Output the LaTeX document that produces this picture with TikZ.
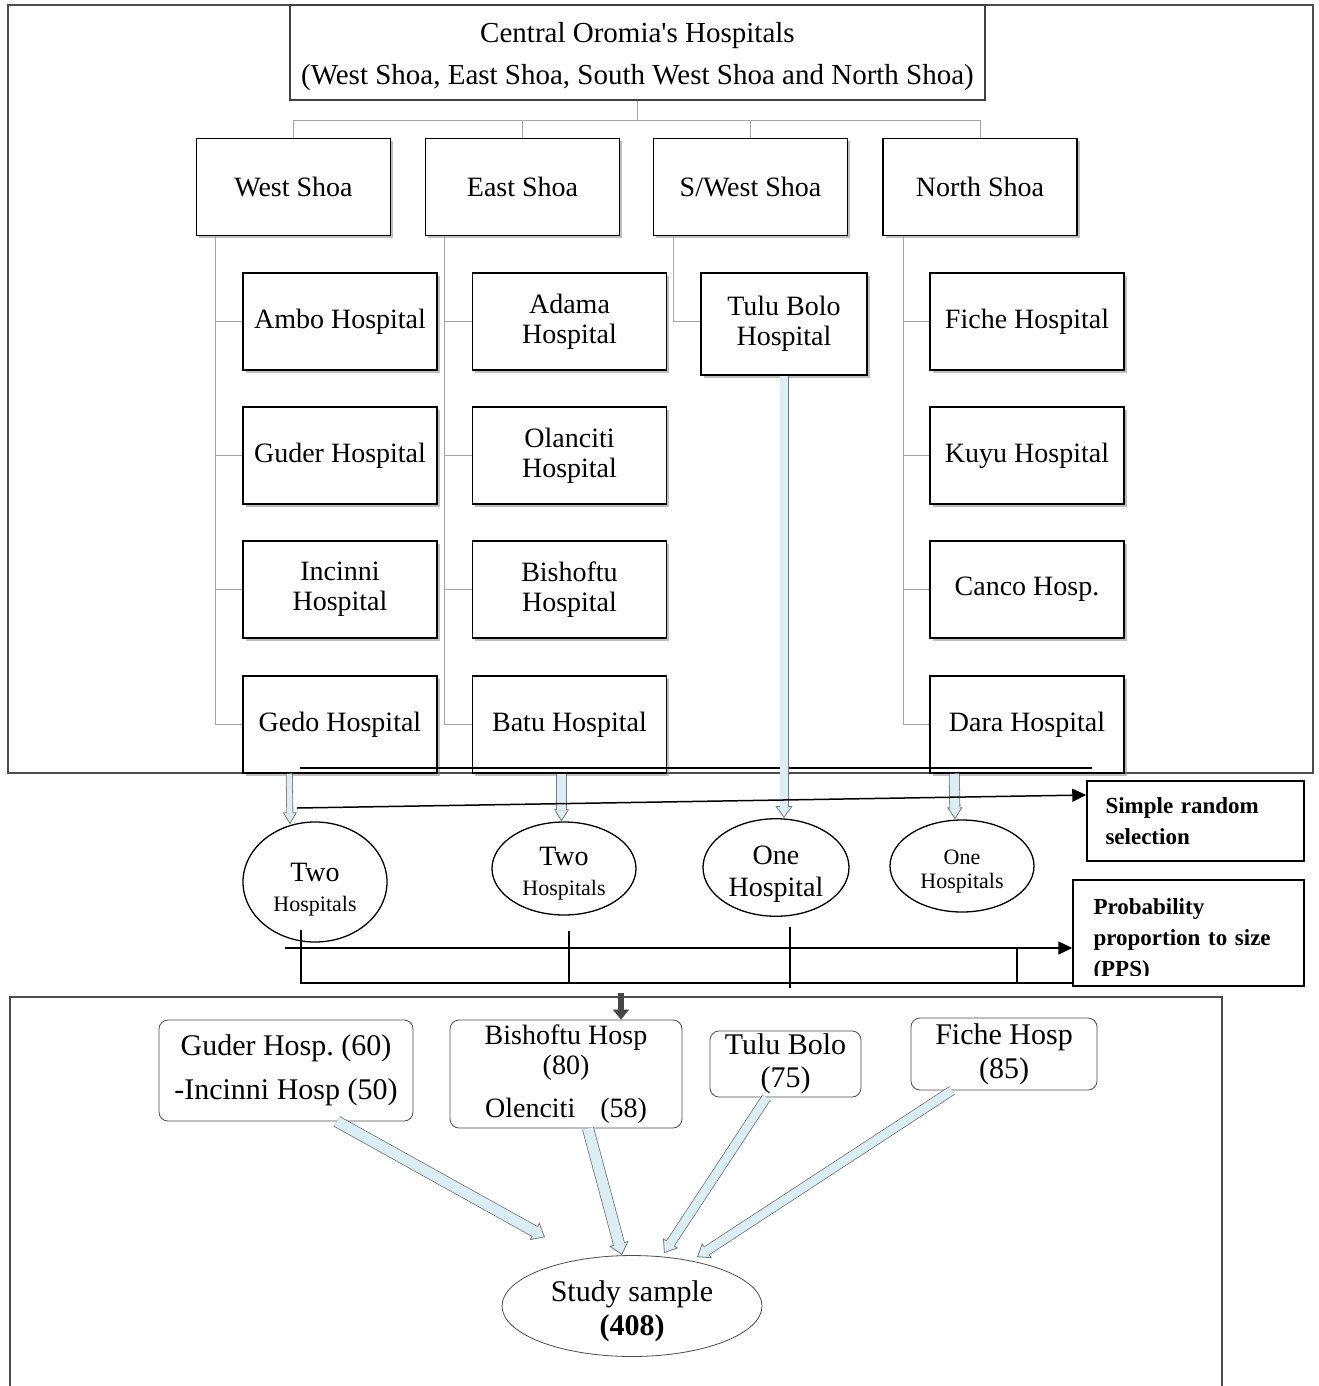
\documentclass[tikz,border=0pt]{standalone}
\usepackage{fontspec}
\setmainfont{Liberation Serif}
\usetikzlibrary{shapes.geometric}
\usetikzlibrary{shadows}
\usetikzlibrary{arrows.meta}
\usetikzlibrary{calc}

\definecolor{arrowblue}{RGB}{218,238,243}
\definecolor{treegray}{RGB}{165,165,165}
\definecolor{edgegray}{RGB}{120,120,120}
\definecolor{headgray}{RGB}{70,70,70}

\tikzset{
  panel/.style={draw=black!70,line width=1.2pt},
  titlebox/.style={rectangle,draw=black!75,line width=1.3pt,fill=white,align=center,
    minimum width=695pt,minimum height=95pt,inner sep=0pt,font=\fontsize{29}{42}\selectfont},
  hospbox/.style={rectangle,draw,line width=1.5pt,fill=white,align=center,
    minimum width=194pt,minimum height=97pt,inner sep=2pt,font=\fontsize{28}{30}\selectfont,
    drop shadow={shadow xshift=2.5pt,shadow yshift=-2.5pt,fill=black!50,opacity=0.5}},
  countoval/.style={ellipse,draw,line width=1.3pt,fill=white,align=center,inner sep=0pt,
    minimum width=144pt,minimum height=94pt,font=\fontsize{28}{28}\selectfont},
  methodbox/.style={rectangle,draw,line width=1.5pt,fill=white,align=left,
    font=\fontsize{23}{31}\bfseries\selectfont},
  samplebox/.style={rectangle,rounded corners=9pt,draw=black!70,line width=0.8pt,fill=white,
    align=center,inner sep=0pt,font=\fontsize{30}{34}\selectfont},
  treeline/.style={draw=treegray,line width=1pt},
  pointer/.style={line width=1.5pt,-{Triangle[length=14pt,width=13pt]}},
  downarrow/.style={draw=headgray,line width=6pt,-{Triangle[length=10pt,width=16pt,line width=0.5pt]}},
  blockarrow/.style 2 args={draw=edgegray,line width=#1,
    -{Triangle[length=12pt,width=#2,line width=0.8pt,fill=arrowblue]},
    postaction={draw=arrowblue,line width=#1-1.6pt,shorten >=11pt,-}},
}

\begin{document}
\begin{tikzpicture}[x=1pt,y=-1pt]
\path[use as bounding box,fill=white] (0,0) rectangle (1318,1386);

% frames
\draw[panel] (8,5) rectangle (1313,773);
\draw[panel] (10,1386) |- (1222,997) -- (1222,1386);

\path (637.5,52.5) node[titlebox](Central) {\rule{0pt}{28pt}Central Oromia\textquotesingle s Hospitals\\(West Shoa, East Shoa, South West Shoa and North Shoa)}
(293.5,187) node[hospbox](West) {West Shoa}
(522.5,187) node[hospbox](East) {East Shoa}
(750.5,187) node[hospbox](SWest) {S/West Shoa}
(980,187) node[hospbox](North) {North Shoa}
(340,321.5) node[hospbox](Ambo) {Ambo Hospital}
(340,455.5) node[hospbox](Guder) {Guder Hospital}
(340,589.5) node[hospbox](Incinni) {Incinni\\Hospital}
(340,724.5) node[hospbox](Gedo) {Gedo Hospital}
(569.5,321.5) node[hospbox](Adama) {Adama\\Hospital}
(569.5,455.5) node[hospbox](Olanciti) {Olanciti\\Hospital}
(569.5,589.5) node[hospbox](Bishoftu) {Bishoftu\\Hospital}
(569.5,724.5) node[hospbox](Batu) {Batu Hospital}
(784,324) node[hospbox,minimum width=166pt,minimum height=102pt](TuluBolo) {Tulu Bolo\\Hospital}
(1027,321.5) node[hospbox](Fiche) {Fiche Hospital}
(1027,455.5) node[hospbox](Kuyu) {Kuyu Hospital}
(1027,589.5) node[hospbox](Canco) {Canco Hosp.}
(1027,724.5) node[hospbox](Dara) {Dara Hospital}
;

% region to hospitals
\draw[treeline] (Central.south) -- ++(0,20) coordinate (bus);
\draw[treeline] (bus) -| (West.north);
\draw[treeline] (bus) -| (East.north);
\draw[treeline] (bus) -| (SWest.north);
\draw[treeline] (bus) -| (North.north);
\draw[treeline] ($(West.south west)+(20,0)$) |- (Ambo.west);
\draw[treeline] ($(West.south west)+(20,0)$) |- (Guder.west);
\draw[treeline] ($(West.south west)+(20,0)$) |- (Incinni.west);
\draw[treeline] ($(West.south west)+(20,0)$) |- (Gedo.west);
\draw[treeline] ($(East.south west)+(20,0)$) |- (Adama.west);
\draw[treeline] ($(East.south west)+(20,0)$) |- (Olanciti.west);
\draw[treeline] ($(East.south west)+(20,0)$) |- (Bishoftu.west);
\draw[treeline] ($(East.south west)+(20,0)$) |- (Batu.west);
\draw[treeline] ($(SWest.south west)+(21,0)$) |- ($(TuluBolo.west)+(0,-3)$);
\draw[treeline] ($(North.south west)+(21,0)$) |- (Fiche.west);
\draw[treeline] ($(North.south west)+(21,0)$) |- (Kuyu.west);
\draw[treeline] ($(North.south west)+(21,0)$) |- (Canco.west);
\draw[treeline] ($(North.south west)+(21,0)$) |- (Dara.west);

\coordinate (rule_l) at (300,768);
\coordinate (rule_r) at (1092,768);
\draw[line width=1.2pt] (rule_l) -- (rule_r);

\path (315,882) node[countoval,minimum height=120pt](two_w) {\rule{0pt}{33pt}Two\\[2pt]{\fontsize{22}{24}\selectfont Hospitals}}
(564,868.5) node[countoval,minimum height=93pt](two_e) {\rule{0pt}{29pt}Two\\[2pt]{\fontsize{22}{24}\selectfont Hospitals}}
(776,867.5) node[countoval,minimum width=146pt,minimum height=95pt](one_sw) {\rule{0pt}{31pt}One\\[4pt]Hospital}
(962,866) node[countoval,minimum height=92pt,font=\fontsize{22}{24}\selectfont](one_n) {\rule{0pt}{25pt}One\\Hospitals}
(1195.5,821) node[methodbox,minimum width=217pt,minimum height=80pt,text width=180pt](SRS) {Simple random\\selection}
(1188.5,933) node[methodbox,minimum width=231pt,minimum height=106pt](PPS) {}
;
\begin{scope}
\clip ($(PPS.north west)+(1,1)$) rectangle ($(PPS.south east)+(-1,-11)$);
\node[font=\fontsize{23}{31}\bfseries\selectfont,align=left,text width=190pt,anchor=north] (pps_text) at ($(PPS.north)+(0,16)$) {Probability\\proportion to size\\(PPS)};
\end{scope}

\draw[blockarrow={7pt}{14pt}] ($(Gedo.south west)+(47,0)$) -- ($(two_w.north)+(-25,3)$);
\draw[blockarrow={11pt}{15pt}] ($(Batu.south)+(-8,0)$) -- ($(two_e.north)+(-2.5,0)$);
\draw[blockarrow={9pt}{17pt}] (TuluBolo.south) -- ($(one_sw.north)+(8,0)$);
\draw[blockarrow={11pt}{15pt}] ($(Dara.south west)+(25,0)$) -- ($(one_n.north)+(-7,0)$);

% selection arrows
\coordinate (srs_from) at (297,808);
\draw[pointer] (srs_from) -- ($(SRS.west)+(0,-26)$);
\coordinate (pps_from) at (285,948);
\draw[pointer] (pps_from) -- (pps_from -| PPS.west);
\coordinate (brace_l) at (301,930);
\draw[line width=1.5pt] (brace_l) |- ($(PPS.south west)+(0,-4)$);
\draw[line width=1.5pt] ($(two_e.south)+(5,15)$) -- ++(0,52);
\draw[line width=1.5pt] ($(one_sw.south)+(14,10)$) -- ++(0,61);
\draw[line width=1.5pt] (1017,948) -- (1017,982);

\path (286,1070.5) node[samplebox,minimum width=254pt,minimum height=101pt](guder_n) {Guder Hosp.\ (60)\\[10pt]-Incinni Hosp (50)}
(566,1074) node[samplebox,minimum width=232pt,minimum height=108pt,font=\fontsize{28}{30}\selectfont](bishoftu_n) {Bishoftu Hosp\\(80)\\[13pt]Olenciti\hspace{18pt} (58)}
(785.5,1064) node[samplebox,minimum width=151pt,minimum height=66pt,font=\fontsize{30}{33}\selectfont](tulu_n) {Tulu Bolo\\(75)}
(1004,1054) node[samplebox,minimum width=186pt,minimum height=72pt](fiche_n) {Fiche Hosp\\(85)}
(632,1306) node[ellipse,draw=black!70,line width=0.8pt,fill=white,inner sep=0pt,minimum width=260pt,minimum height=96pt,align=center,font=\fontsize{30}{34}\selectfont](Sample) {\rule{0pt}{31pt}Study sample\\\textbf{(408)}}
;

\coordinate (down_from) at (621,993);
\draw[downarrow] (down_from) -- (down_from |- bishoftu_n.north);

\draw[blockarrow={12pt}{20pt}] (guder_n.-45) -- ($(Sample.north)+(-87,-18)$);
\draw[blockarrow={12pt}{20pt}] ($(bishoftu_n.south)+(22,0)$) -- ($(Sample.north)+(-10,0)$);
\draw[blockarrow={10pt}{18pt}] ($(tulu_n.south)+(-19,0)$) -- ($(Sample.north)+(32,-2)$);
\draw[blockarrow={10pt}{18pt}] ($(fiche_n.south)+(-52,0)$) -- ($(Sample.north)+(65,2)$);

\end{tikzpicture}
\end{document}
